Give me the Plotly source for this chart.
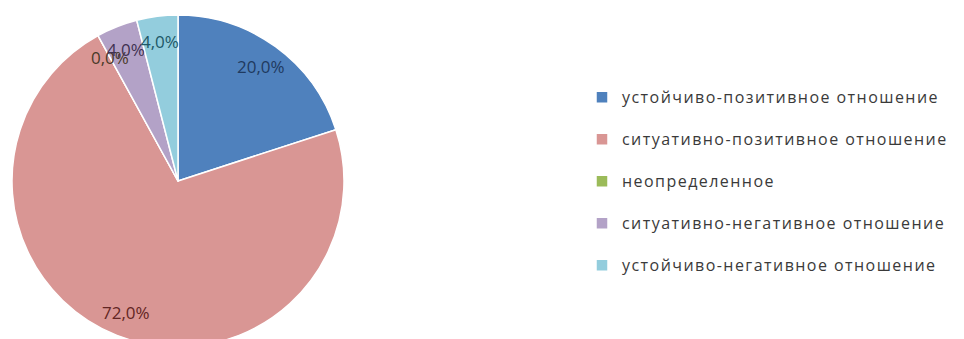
import math
import plotly.graph_objects as go

categories = [
    "устойчиво-позитивное отношение",
    "ситуативно-позитивное отношение",
    "неопределенное",
    "ситуативно-негативное отношение",
    "устойчиво-негативное отношение",
]
values = [20.0, 72.0, 0.0, 4.0, 4.0]
slice_colors = ["#4F81BD", "#D99694", "#9BBB59", "#B3A2C7", "#93CDDD"]
label_colors = ["#1F3A60", "#632523", "#4A3A28", "#3F3151", "#205867"]

W, H = 964, 339
# pie domain (paper fractions)
dom_x = [4 / W, 336 / W]
dom_y = [0, 1 - 7 / H]
label_radius_frac = 0.85

labels_text = [f"{v:.1f}%".replace(".", ",") for v in values]
legend_names = [
    f"<span style='font-size:16px;letter-spacing:1.45px'>{c}</span><br> "
    for c in categories
]

fig = go.Figure(
    go.Pie(
        labels=legend_names,
        values=values,
        textinfo="none",
        sort=False,
        direction="clockwise",
        rotation=0,
        marker=dict(colors=slice_colors, line=dict(color="white", width=1.5)),
        hoverinfo="skip",
        domain=dict(x=dom_x, y=dom_y),
    )
)

# data labels placed along each slice's mid-angle (computed from values)
w_px = (dom_x[1] - dom_x[0]) * W
h_px = (dom_y[1] - dom_y[0]) * H
r_px = min(w_px, h_px) / 2
cx_px = (dom_x[0] + dom_x[1]) / 2 * W
cy_px = (1 - (dom_y[0] + dom_y[1]) / 2) * H
total = sum(values)
cum = 0.0
for v, t, col in zip(values, labels_text, label_colors):
    mid = (cum + v / 2) / total * 2 * math.pi
    cum += v
    px = cx_px + label_radius_frac * r_px * math.sin(mid)
    py = cy_px - label_radius_frac * r_px * math.cos(mid)
    fig.add_annotation(
        x=px / W, y=1 - py / H, xref="paper", yref="paper",
        text=t, showarrow=False,
        font=dict(family="Open Sans", size=17, color=col),
        xanchor="center", yanchor="middle",
    )

fig.update_layout(
    width=W,
    height=H,
    margin=dict(l=0, r=0, t=0, b=0),
    paper_bgcolor="white",
    plot_bgcolor="white",
    legend=dict(
        x=574 / W,
        y=1 - 73 / H,
        xanchor="left",
        yanchor="top",
        valign="top",
        font=dict(family="Open Sans", size=15, color="#3A3A3A"),
        bgcolor="rgba(0,0,0,0)",
    ),
    showlegend=True,
)

fig.write_html("out.html")
